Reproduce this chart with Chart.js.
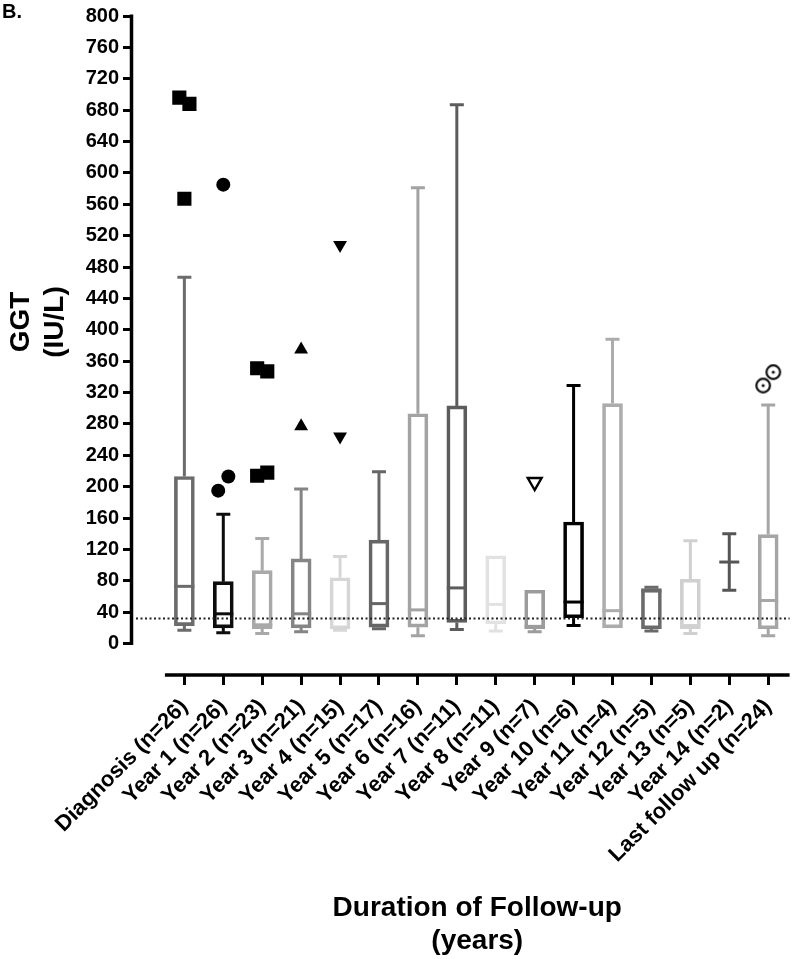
<!DOCTYPE html>
<html>
<head>
<meta charset="utf-8">
<title>GGT during follow-up</title>
<script src="https://cdn.jsdelivr.net/npm/chart.js@4.4.1/dist/chart.umd.min.js"></script>
<style>
  html, body { margin: 0; padding: 0; background: #fff; }
  #wrap { width: 800px; height: 959px; position: relative; }
</style>
</head>
<body>
<div id="wrap"><canvas id="ggt-chart"></canvas></div>
<script>
// categories on the x axis
const categories = [
  "Diagnosis (n=26)", "Year 1 (n=26)", "Year 2 (n=23)", "Year 3 (n=21)",
  "Year 4 (n=15)", "Year 5 (n=17)", "Year 6 (n=16)", "Year 7 (n=11)",
  "Year 8 (n=11)", "Year 9 (n=7)", "Year 10 (n=6)", "Year 11 (n=4)",
  "Year 12 (n=5)", "Year 13 (n=5)", "Year 14 (n=2)", "Last follow up (n=24)"
];

// box plot values (IU/L)
const whiskerLow  = [17, 14, 13, 15, 17, 19, 10, 18, 16, 15, 23, 19, 16, 13, 68, 10];
const quartile1   = [23, 20, 19, 20, 19, 21, 21, 27, 25, 19, 33, 20, 19, 19, 104, 19];
const medians     = [73, 38, 24, 38, 32, 51, 43, 71, 50, 22, 53, 42, 67, 23, 104, 55];
const quartile3   = [213, 79, 93, 108, 84, 132, 293, 303, 112, 68, 155, 306, 70, 82, 104, 139];
const whiskerHigh = [467, 165, 134, 197, 111, 219, 581, 687, 112, 68, 329, 388, 72, 131, 140, 304];

// outliers per category
const outliers = [
  [696, 688, 567], [585, 195, 213], [351, 347, 214, 218], [375, 277],
  [508, 264], [], [], [], [], [206], [], [], [], [], [], [329, 346]
];
const outlierMarkers = [
  "square", "circle", "square", "triangleUp", "triangleDown", null, null, null,
  null, "openTriangleDown", null, null, null, null, null, "circledDot"
];

// y axis ticks and the dotted reference line
const yTicks = [0, 40, 80, 120, 160, 200, 240, 280, 320, 360, 400, 440, 480, 520, 560, 600, 640, 680, 720, 760, 800];
const upperNormal = 32;

const boxColors = [
  "#6b6b6b", "#0d0d0d", "#a9a9a9", "#858585", "#d6d6d6", "#666666", "#a3a3a3", "#5c5c5c",
  "#e2e2e2", "#9c9c9c", "#000000", "#acacac", "#6a6a6a", "#d0d0d0", "#555555", "#a6a6a6"
];

const FONT = "'Liberation Sans', Arial, Helvetica, sans-serif";

function circledDot() {
  var c = document.createElement("canvas");
  c.width = c.height = 18;
  var g = c.getContext("2d");
  g.lineWidth = 2.2;
  g.strokeStyle = "#111";
  g.fillStyle = "#fff";
  g.beginPath(); g.arc(9, 9, 6.8, 0, 2 * Math.PI); g.fill(); g.stroke();
  g.fillStyle = "#111";
  g.beginPath(); g.arc(9, 9, 1.6, 0, 2 * Math.PI); g.fill();
  return c;
}

const markerStyles = {
  square: { pointStyle: "rect", pointRadius: 10, pointBackgroundColor: "#000", pointBorderColor: "#000", pointBorderWidth: 0 },
  circle: { pointStyle: "circle", pointRadius: 7, pointBackgroundColor: "#000", pointBorderColor: "#000", pointBorderWidth: 0 },
  triangleUp: { pointStyle: "triangle", pointRadius: 8, pointBackgroundColor: "#000", pointBorderColor: "#000", pointBorderWidth: 0 },
  triangleDown: { pointStyle: "triangle", pointRotation: 180, pointRadius: 8, pointBackgroundColor: "#000", pointBorderColor: "#000", pointBorderWidth: 0 },
  openTriangleDown: { pointStyle: "triangle", pointRotation: 180, pointRadius: 8, pointBackgroundColor: "#fff", pointBorderColor: "#000", pointBorderWidth: 2.4 },
  circledDot: { pointStyle: circledDot(), pointRadius: 8, pointBackgroundColor: "#fff", pointBorderColor: "#000", pointBorderWidth: 0 }
};

// spread overlapping outliers left / right like the original
function spread(values) {
  var offs = values.map(function () { return 0; });
  for (var k = 1; k < values.length; k++) {
    if (offs[k - 1] === 0 && Math.abs(values[k] - values[k - 1]) < 25) {
      offs[k - 1] = -0.13;
      offs[k] = 0.13;
    }
  }
  return offs;
}

var datasets = [{
  type: "bar",
  data: categories.map(function (_, i) { return { x: i, y: [quartile1[i], quartile3[i]] }; }),
  backgroundColor: "rgba(255,255,255,0)",
  borderColor: boxColors,
  borderWidth: 3,
  borderSkipped: false,
  barThickness: 20,
  order: 2
}];

outliers.forEach(function (vals, i) {
  if (!vals.length) return;
  var offs = spread(vals);
  datasets.push(Object.assign({
    type: "scatter",
    data: vals.map(function (v, k) { return { x: i + offs[k], y: v }; }),
    order: 1
  }, markerStyles[outlierMarkers[i]]));
});

function whisker(ctx, cx, from, to) {
  if (Math.abs(from - to) < 1) return;
  ctx.beginPath();
  ctx.moveTo(cx, from);
  ctx.lineTo(cx, to);
  ctx.moveTo(cx - 7, to);
  ctx.lineTo(cx + 7, to);
  ctx.stroke();
}

const boxPlotExtras = {
  id: "boxPlotExtras",
  beforeDatasetsDraw: function (chart) {
    var ctx = chart.ctx, x = chart.scales.x, y = chart.scales.y;
    ctx.save();
    ctx.lineWidth = 3;
    categories.forEach(function (_, i) {
      var cx = x.getPixelForValue(i);
      ctx.strokeStyle = boxColors[i];
      whisker(ctx, cx, y.getPixelForValue(quartile3[i]), y.getPixelForValue(whiskerHigh[i]));
      whisker(ctx, cx, y.getPixelForValue(quartile1[i]), y.getPixelForValue(whiskerLow[i]));
    });
    ctx.restore();
  },
  afterDatasetsDraw: function (chart) {
    var ctx = chart.ctx, x = chart.scales.x, y = chart.scales.y, area = chart.chartArea;
    ctx.save();
    // medians
    ctx.lineWidth = 3;
    categories.forEach(function (_, i) {
      var cx = x.getPixelForValue(i), my = y.getPixelForValue(medians[i]);
      ctx.strokeStyle = boxColors[i];
      ctx.beginPath();
      ctx.moveTo(cx - 10, my);
      ctx.lineTo(cx + 10, my);
      ctx.stroke();
    });
    // dotted reference line
    var ry = y.getPixelForValue(upperNormal);
    ctx.strokeStyle = "#222";
    ctx.lineWidth = 2;
    ctx.setLineDash([2, 2.5]);
    ctx.beginPath();
    ctx.moveTo(area.left + 3, ry);
    ctx.lineTo(area.right, ry);
    ctx.stroke();
    ctx.setLineDash([]);
    // axis lines (GraphPad style, detached)
    var x0 = x.getPixelForValue(-0.5);
    ctx.strokeStyle = "#000";
    ctx.lineWidth = 3.5;
    ctx.beginPath();
    ctx.moveTo(area.left - 1.5, y.getPixelForValue(yTicks[yTicks.length - 1]) - 1.5);
    ctx.lineTo(area.left - 1.5, y.getPixelForValue(0) + 1.5);
    ctx.moveTo(x0, area.bottom);
    ctx.lineTo(area.right, area.bottom);
    ctx.stroke();
    // axis titles and panel letter
    ctx.fillStyle = "#000";
    ctx.textAlign = "center";
    ctx.textBaseline = "middle";
    ctx.font = "bold 28px " + FONT;
    var xc = (x0 + area.right) / 2;
    ctx.fillText("Duration of Follow-up", xc, 908);
    ctx.fillText("(years)", xc, 941);
    ctx.translate(0, 322);
    ctx.rotate(-Math.PI / 2);
    ctx.fillText("GGT", 0, 21);
    ctx.fillText("(IU/L)", 0, 55);
    ctx.setTransform(1, 0, 0, 1, 0, 0);
    ctx.textAlign = "left";
    ctx.textBaseline = "alphabetic";
    ctx.font = "bold 20px " + FONT;
    ctx.fillText("B.", 2, 18);
    ctx.restore();
  }
};

Chart.defaults.font.family = FONT;
Chart.defaults.color = "#000";

new Chart(document.getElementById("ggt-chart"), {
  type: "bar",
  data: { datasets: datasets },
  plugins: [boxPlotExtras],
  options: {
    responsive: true,
    maintainAspectRatio: false,
    animation: false,
    events: [],
    layout: { padding: { top: 11, right: 2, left: 0, bottom: 0 } },
    plugins: { legend: { display: false }, tooltip: { enabled: false } },
    scales: {
      x: {
        type: "linear",
        min: -1.32,
        max: 15.55,
        offset: false,
        afterBuildTicks: function (s) {
          s.ticks = categories.map(function (_, i) { return { value: i }; });
        },
        afterFit: function (s) { s.height = 959 - 675; },
        ticks: {
          autoSkip: false,
          minRotation: 45,
          maxRotation: 45,
          padding: 9,
          font: { size: 22, weight: "bold" },
          callback: function (v) { return categories[v]; }
        },
        grid: { offset: false, drawOnChartArea: false, drawTicks: true, tickLength: 10, tickWidth: 3, tickColor: "#000", lineWidth: 3, color: "#000" },
        border: { display: false }
      },
      y: {
        min: -40,
        max: 800,
        afterBuildTicks: function (s) {
          s.ticks = yTicks.map(function (v) { return { value: v }; });
        },
        afterFit: function (s) { s.width = 133; },
        ticks: { padding: 4, font: { size: 20, weight: "bold" } },
        grid: { drawOnChartArea: false, drawTicks: true, tickLength: 10, tickWidth: 3, tickColor: "#000", lineWidth: 3, color: "#000" },
        border: { display: false }
      }
    }
  }
});
</script>
</body>
</html>
